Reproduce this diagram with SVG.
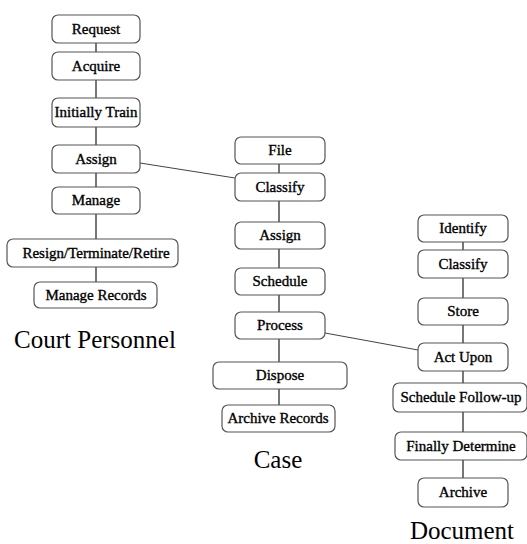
<svg xmlns="http://www.w3.org/2000/svg" width="527" height="544" viewBox="0 0 527 544">
<style>
.box{fill:#fff;stroke:#555;stroke-width:1.2}
.t{font-family:'Times New Roman',Times,Tinos,'Nimbus Roman','Noto Serif','Liberation Serif',serif;font-size:15px;fill:#000;text-anchor:middle;stroke:#000;stroke-width:0.35}
.lab{font-family:'Times New Roman',Times,Tinos,'Nimbus Roman','Noto Serif','Liberation Serif',serif;font-size:25px;fill:#000;text-anchor:middle}
.v{stroke:#555;stroke-width:1.6;fill:none}
.x{stroke:#444;stroke-width:1;fill:none}
</style>
<rect width="527" height="544" fill="#fff"/>
<g id="connectors">
<line class="v" x1="96" y1="43" x2="96" y2="52"/>
<line class="v" x1="96" y1="80" x2="96" y2="98"/>
<line class="v" x1="96" y1="127" x2="96" y2="145"/>
<line class="v" x1="96" y1="173" x2="96" y2="187"/>
<line class="v" x1="96" y1="214" x2="96" y2="239"/>
<line class="v" x1="96" y1="267" x2="96" y2="282"/>
<line class="v" x1="279" y1="164" x2="279" y2="173"/>
<line class="v" x1="279" y1="201" x2="279" y2="222"/>
<line class="v" x1="279" y1="249" x2="279" y2="268"/>
<line class="v" x1="279" y1="295" x2="279" y2="312"/>
<line class="v" x1="279" y1="339" x2="279" y2="362"/>
<line class="v" x1="279" y1="389" x2="279" y2="405"/>
<line class="v" x1="463" y1="242" x2="463" y2="250"/>
<line class="v" x1="463" y1="278" x2="463" y2="298"/>
<line class="v" x1="463" y1="325" x2="463" y2="343"/>
<line class="v" x1="463" y1="371" x2="463" y2="383"/>
<line class="v" x1="463" y1="412" x2="463" y2="432"/>
<line class="v" x1="463" y1="460" x2="463" y2="478"/>
<line class="x" x1="140" y1="163" x2="235" y2="178"/>
<line class="x" x1="325" y1="333" x2="418" y2="350"/>
</g>
<g id="cp-request"><rect class="box" x="52" y="15" width="88" height="28" rx="6"/><text class="t" x="96" y="34">Request</text></g>
<g id="cp-acquire"><rect class="box" x="52" y="52" width="88" height="28" rx="6"/><text class="t" x="96" y="71">Acquire</text></g>
<g id="cp-train"><rect class="box" x="52" y="98" width="88" height="29" rx="6"/><text class="t" x="96" y="117">Initially Train</text></g>
<g id="cp-assign"><rect class="box" x="52" y="145" width="88" height="28" rx="6"/><text class="t" x="96" y="164">Assign</text></g>
<g id="cp-manage"><rect class="box" x="52" y="187" width="88" height="27" rx="6"/><text class="t" x="96" y="205">Manage</text></g>
<g id="cp-resign"><rect class="box" x="7" y="239" width="171" height="28" rx="6"/><text class="t" x="96" y="258">Resign/Terminate/Retire</text></g>
<g id="cp-records"><rect class="box" x="34" y="282" width="123" height="26" rx="6"/><text class="t" x="96" y="300">Manage Records</text></g>
<g id="cp-label"><text class="lab" x="95" y="348">Court Personnel</text></g>

<g id="case-file"><rect class="box" x="235" y="137" width="90" height="27" rx="6"/><text class="t" x="280" y="155">File</text></g>
<g id="case-classify"><rect class="box" x="235" y="173" width="90" height="28" rx="6"/><text class="t" x="280" y="192">Classify</text></g>
<g id="case-assign"><rect class="box" x="235" y="222" width="90" height="27" rx="6"/><text class="t" x="280" y="240">Assign</text></g>
<g id="case-schedule"><rect class="box" x="235" y="268" width="90" height="27" rx="6"/><text class="t" x="280" y="286">Schedule</text></g>
<g id="case-process"><rect class="box" x="235" y="312" width="90" height="27" rx="6"/><text class="t" x="280" y="330">Process</text></g>
<g id="case-dispose"><rect class="box" x="213" y="362" width="134" height="27" rx="6"/><text class="t" x="280" y="380">Dispose</text></g>
<g id="case-archive"><rect class="box" x="222" y="405" width="113" height="27" rx="6"/><text class="t" x="278" y="423">Archive Records</text></g>
<g id="case-label"><text class="lab" x="278" y="468">Case</text></g>

<g id="doc-identify"><rect class="box" x="418" y="215" width="90" height="27" rx="6"/><text class="t" x="463" y="233">Identify</text></g>
<g id="doc-classify"><rect class="box" x="418" y="250" width="90" height="28" rx="6"/><text class="t" x="463" y="269">Classify</text></g>
<g id="doc-store"><rect class="box" x="418" y="298" width="90" height="27" rx="6"/><text class="t" x="463" y="316">Store</text></g>
<g id="doc-act"><rect class="box" x="418" y="343" width="90" height="28" rx="6"/><text class="t" x="463" y="362">Act Upon</text></g>
<g id="doc-followup"><rect class="box" x="393" y="383" width="134" height="29" rx="6"/><text class="t" x="461" y="402">Schedule Follow-up</text></g>
<g id="doc-final"><rect class="box" x="395" y="432" width="132" height="28" rx="6"/><text class="t" x="461" y="451">Finally Determine</text></g>
<g id="doc-archive"><rect class="box" x="418" y="478" width="90" height="29" rx="6"/><text class="t" x="463" y="497">Archive</text></g>
<g id="doc-label"><text class="lab" x="462" y="539">Document</text></g>
</svg>
